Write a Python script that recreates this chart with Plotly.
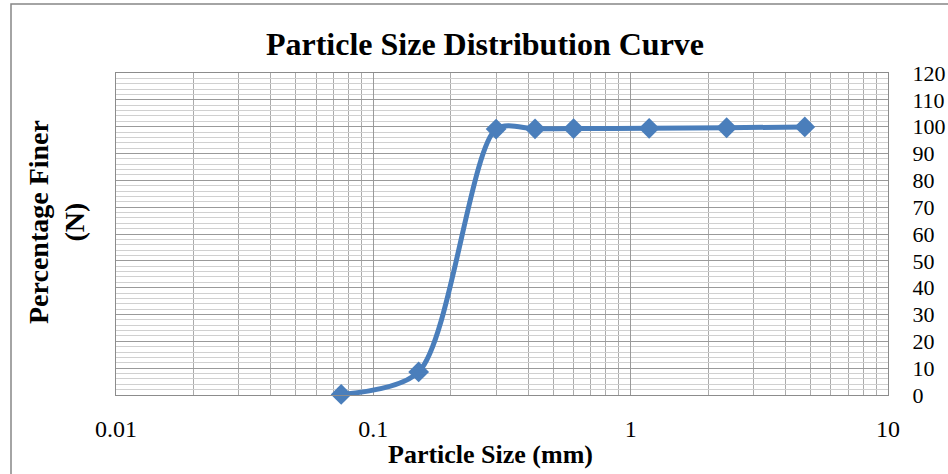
import plotly.graph_objects as go

# Data
particle_size_mm = [0.075, 0.15, 0.3, 0.425, 0.6, 1.18, 2.36, 4.75]
percent_finer = [0.2, 8.6, 99.1, 99.2, 99.3, 99.4, 99.6, 99.9]

x_tick_vals = [0.01, 0.1, 1, 10]
x_tick_text = ["0.01", "0.1", "1", "10"]
y_tick_vals = list(range(0, 121, 10))

FONT = "Liberation Serif, Times New Roman, serif"
BLUE = "#4A7EBB"

L, R, T, B = 116, 888, 73, 395
PW, PH = R - L, B - T

fig = go.Figure()
fig.add_trace(go.Scatter(
    x=particle_size_mm,
    y=percent_finer,
    mode="lines+markers",
    line=dict(color=BLUE, width=5, shape="spline", smoothing=0.8),
    marker=dict(symbol="diamond", size=16, color=BLUE),
    showlegend=False,
    cliponaxis=False,
))

fig.update_layout(
    width=948, height=474,
    margin=dict(l=L, r=948 - R, t=T, b=474 - B, autoexpand=False),
    paper_bgcolor="white", plot_bgcolor="white",
    font=dict(family=FONT, color="black", size=22),
    title=dict(text="<b>Particle Size Distribution Curve</b>",
               x=485 / 948, xanchor="center", y=1 - 44 / 474, yanchor="middle",
               font=dict(size=32, family=FONT, color="black")),
    xaxis=dict(
        type="log", range=[-2, 1], automargin=False,
        tickvals=x_tick_vals, ticktext=x_tick_text,
        showgrid=True, gridcolor="#9a9a9a", gridwidth=1,
        minor=dict(dtick="D1", showgrid=True, gridcolor="#ababab", gridwidth=1, ticks=""),
        ticks="", showline=True, linecolor="#8c8c8c", linewidth=1, mirror=True,
        tickfont=dict(size=24, family=FONT),
        ticklabelstandoff=12,
        zeroline=False,
    ),
    yaxis=dict(
        range=[0, 120], tickvals=y_tick_vals, side="right", automargin=False,
        showgrid=True, gridcolor="#9a9a9a", gridwidth=1,
        minor=dict(dtick=2, showgrid=True, gridcolor="#d0d0d0", gridwidth=1, ticks=""),
        ticks="", showline=True, linecolor="#8c8c8c", linewidth=1, mirror=True,
        tickfont=dict(size=22, family=FONT),
        ticklabelstandoff=19,
        zeroline=False,
    ),
    annotations=[
        dict(
            text="<b>Percentage Finer<br>(N)</b>",
            xref="paper", yref="paper",
            x=(56 - L) / PW, y=(B - 222) / PH,
            xanchor="center", yanchor="middle",
            textangle=-90, showarrow=False,
            font=dict(size=28, family=FONT, color="black"),
        ),
        dict(
            text="<b>Particle Size (mm)</b>",
            xref="paper", yref="paper",
            x=(490 - L) / PW, y=(B - 455) / PH,
            xanchor="center", yanchor="middle",
            showarrow=False,
            font=dict(size=26, family=FONT, color="black"),
        ),
    ],
    shapes=[dict(
        type="rect", xref="paper", yref="paper",
        x0=(11 - L) / PW, x1=(960 - L) / PW,
        y0=(B - 490) / PH, y1=(B - 4) / PH,
        line=dict(color="#868686", width=1.5), fillcolor="rgba(0,0,0,0)",
        layer="below",
    )],
)

fig.write_html(
    "out.html",
    config={"displayModeBar": False},
    post_script="document.body.style.margin='0';document.body.style.overflow='hidden';",
)
